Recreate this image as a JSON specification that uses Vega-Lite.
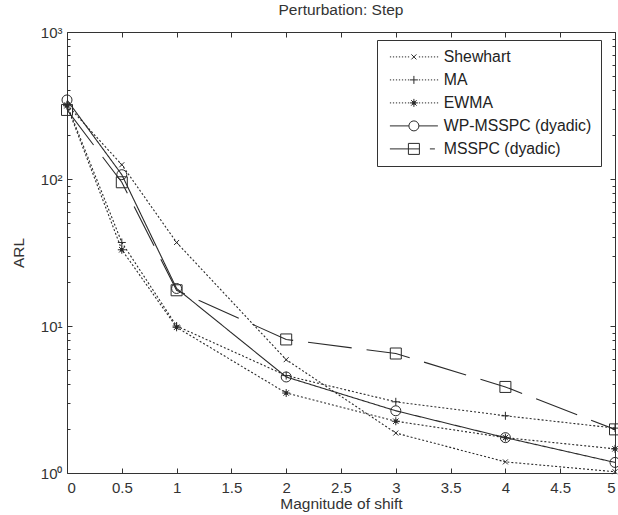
{
  "$schema": "https://vega.github.io/schema/vega-lite/v6.json",
  "width": 548,
  "height": 441,
  "autosize": {"type": "none"},
  "padding": {"left": 67, "top": 32, "right": 3, "bottom": 42},
  "background": "white",
  "title": {"text": "Perturbation: Step", "fontSize": 15.5, "fontWeight": "normal", "color": "#333", "font": "Liberation Sans", "offset": 7},
  "config": {
    "view": {"stroke": "#333", "strokeWidth": 1},
    "axis": {"labelFont": "Liberation Sans", "titleFont": "Liberation Sans", "labelColor": "#333", "titleColor": "#333", "tickColor": "#333", "domain": false, "grid": false, "labelFontSize": 15, "titleFontSize": 15.5, "titleFontWeight": "normal"}
  },
  "data": {"values": [
    {"shift": 0, "ARL": 320, "series": "Shewhart"},
    {"shift": 0.5, "ARL": 125, "series": "Shewhart"},
    {"shift": 1, "ARL": 37, "series": "Shewhart"},
    {"shift": 2, "ARL": 5.9, "series": "Shewhart"},
    {"shift": 3, "ARL": 1.87, "series": "Shewhart"},
    {"shift": 4, "ARL": 1.19, "series": "Shewhart"},
    {"shift": 5, "ARL": 1.02, "series": "Shewhart"},
    {"shift": 0, "ARL": 320, "series": "MA"},
    {"shift": 0.5, "ARL": 37, "series": "MA"},
    {"shift": 1, "ARL": 10, "series": "MA"},
    {"shift": 2, "ARL": 4.6, "series": "MA"},
    {"shift": 3, "ARL": 3.05, "series": "MA"},
    {"shift": 4, "ARL": 2.45, "series": "MA"},
    {"shift": 5, "ARL": 2.02, "series": "MA"},
    {"shift": 0, "ARL": 315, "series": "EWMA"},
    {"shift": 0.5, "ARL": 33, "series": "EWMA"},
    {"shift": 1, "ARL": 9.8, "series": "EWMA"},
    {"shift": 2, "ARL": 3.5, "series": "EWMA"},
    {"shift": 3, "ARL": 2.25, "series": "EWMA"},
    {"shift": 4, "ARL": 1.74, "series": "EWMA"},
    {"shift": 5, "ARL": 1.46, "series": "EWMA"},
    {"shift": 0, "ARL": 345, "series": "WP-MSSPC (dyadic)"},
    {"shift": 0.5, "ARL": 107, "series": "WP-MSSPC (dyadic)"},
    {"shift": 1, "ARL": 18, "series": "WP-MSSPC (dyadic)"},
    {"shift": 2, "ARL": 4.5, "series": "WP-MSSPC (dyadic)"},
    {"shift": 3, "ARL": 2.65, "series": "WP-MSSPC (dyadic)"},
    {"shift": 4, "ARL": 1.74, "series": "WP-MSSPC (dyadic)"},
    {"shift": 5, "ARL": 1.18, "series": "WP-MSSPC (dyadic)"},
    {"shift": 0, "ARL": 295, "series": "MSSPC (dyadic)"},
    {"shift": 0.5, "ARL": 95, "series": "MSSPC (dyadic)"},
    {"shift": 1, "ARL": 17.5, "series": "MSSPC (dyadic)"},
    {"shift": 2, "ARL": 8.1, "series": "MSSPC (dyadic)"},
    {"shift": 3, "ARL": 6.5, "series": "MSSPC (dyadic)"},
    {"shift": 4, "ARL": 3.85, "series": "MSSPC (dyadic)"},
    {"shift": 5, "ARL": 1.98, "series": "MSSPC (dyadic)"}
  ]},
  "layer": [
    {
      "mark": {"type": "line", "color": "#2a2a2a", "strokeWidth": 1.1, "clip": true},
      "encoding": {
        "x": {"field": "shift", "type": "quantitative", "scale": {"domain": [0, 5], "nice": false, "zero": false},
              "axis": {"orient": "bottom", "title": "Magnitude of shift", "values": [0, 0.5, 1, 1.5, 2, 2.5, 3, 3.5, 4, 4.5, 5], "format": "~g", "tickSize": -5, "labelPadding": 12, "titlePadding": 1}},
        "y": {"field": "ARL", "type": "quantitative", "scale": {"type": "log", "domain": [1, 1000], "nice": false},
              "axis": {"orient": "left", "title": "ARL", "values": [1,2,3,4,5,6,7,8,9,10,20,30,40,50,60,70,80,90,100,200,300,400,500,600,700,800,900,1000],
                       "labelExpr": "datum.value == 1 ? '10⁰' : datum.value == 10 ? '10¹' : datum.value == 100 ? '10²' : datum.value == 1000 ? '10³' : ''",
                       "tickSize": {"condition": {"test": "indexof([1,10,100,1000], datum.value) >= 0", "value": -5}, "value": -3},
                       "labelPadding": 10, "titlePadding": 14}},
        "detail": {"field": "series"},
        "strokeDash": {"field": "series", "type": "nominal", "legend": null,
                       "scale": {"domain": ["MSSPC (dyadic)", "WP-MSSPC (dyadic)", "EWMA", "MA", "Shewhart"], "range": [[44, 15], [1, 0], [2, 2], [2, 2], [2, 2]]}}
      }
    },
    {
      "mark": {"type": "point", "size": 100, "strokeWidth": 1, "filled": false, "color": "#2a2a2a", "opacity": 1},
      "encoding": {
        "x": {"field": "shift", "type": "quantitative", "axis": null},
        "y": {"field": "ARL", "type": "quantitative", "axis": null},
        "shape": {"field": "series", "type": "nominal", "legend": null,
                  "scale": {"domain": ["MSSPC (dyadic)", "WP-MSSPC (dyadic)", "EWMA", "MA", "Shewhart"],
                            "range": ["M-1.1,-1.1L1.1,-1.1L1.1,1.1L-1.1,1.1Z",
                                      "M1,0A1,1 0 1,1 -1,0A1,1 0 1,1 1,0Z",
                                      "M-0.8,0L0.8,0M0,-0.8L0,0.8M-0.55,-0.55L0.55,0.55M-0.55,0.55L0.55,-0.55M-0.35,-0.15L0.35,-0.15M-0.35,0.15L0.35,0.15M-0.15,-0.35L-0.15,0.35M0.15,-0.35L0.15,0.35",
                                      "M-0.8,0L0.8,0M0,-0.8L0,0.8",
                                      "M-0.5,-0.5L0.5,0.5M-0.5,0.5L0.5,-0.5"]}}
      }
    },
    {
      "mark": {"type": "point", "opacity": 0},
      "encoding": {
        "x": {"field": "shift", "type": "quantitative",
              "axis": {"orient": "top", "title": null, "labels": false, "values": [0, 0.5, 1, 1.5, 2, 2.5, 3, 3.5, 4, 4.5, 5], "tickSize": -5}},
        "y": {"field": "ARL", "type": "quantitative",
              "axis": {"orient": "right", "title": null, "labels": false, "values": [1,2,3,4,5,6,7,8,9,10,20,30,40,50,60,70,80,90,100,200,300,400,500,600,700,800,900,1000],
                       "tickSize": {"condition": {"test": "indexof([1,10,100,1000], datum.value) >= 0", "value": -5}, "value": -3}}}
      }
    },
    {
      "mark": {"type": "point", "size": 100, "strokeWidth": 1, "filled": false, "color": "#2a2a2a", "opacity": 0},
      "encoding": {
        "x": {"field": "shift", "type": "quantitative", "axis": null},
        "y": {"field": "ARL", "type": "quantitative", "axis": null},
        "shape": {"field": "series", "type": "nominal",
                  "scale": {"domain": ["Shewhart", "MA", "EWMA", "WP-MSSPC (dyadic)", "MSSPC (dyadic)"],
                            "range": ["M-4.8,0L-4.55,0M-4.2,0L-3.95,0M-3.6,0L-3.35,0M-3,0L-2.75,0M-2.4,0L-2.15,0M-1.8,0L-1.55,0M-1.2,0L-0.95,0M1,0L1.25,0M1.6,0L1.85,0M2.2,0L2.45,0M2.8,0L3.05,0M3.4,0L3.65,0M4,0L4.25,0M4.6,0L4.85,0M-0.5,-0.5L0.5,0.5M-0.5,0.5L0.5,-0.5",
                                      "M-4.8,0L-4.55,0M-4.2,0L-3.95,0M-3.6,0L-3.35,0M-3,0L-2.75,0M-2.4,0L-2.15,0M-1.8,0L-1.55,0M-1.2,0L-0.95,0M1,0L1.25,0M1.6,0L1.85,0M2.2,0L2.45,0M2.8,0L3.05,0M3.4,0L3.65,0M4,0L4.25,0M4.6,0L4.85,0M-0.8,0L0.8,0M0,-0.8L0,0.8",
                                      "M-4.8,0L-4.55,0M-4.2,0L-3.95,0M-3.6,0L-3.35,0M-3,0L-2.75,0M-2.4,0L-2.15,0M-1.8,0L-1.55,0M-1.2,0L-0.95,0M1,0L1.25,0M1.6,0L1.85,0M2.2,0L2.45,0M2.8,0L3.05,0M3.4,0L3.65,0M4,0L4.25,0M4.6,0L4.85,0M-0.8,0L0.8,0M0,-0.8L0,0.8M-0.55,-0.55L0.55,0.55M-0.55,0.55L0.55,-0.55M-0.35,-0.15L0.35,-0.15M-0.35,0.15L0.35,0.15M-0.15,-0.35L-0.15,0.35M0.15,-0.35L0.15,0.35",
                                      "M-4.8,0L-1,0M1,0L4.8,0M1,0A1,1 0 1,1 -1,0A1,1 0 1,1 1,0Z",
                                      "M-4.8,0L1.1,0M-1.1,-1.1L1.1,-1.1L1.1,1.1L-1.1,1.1ZM3.2,0L4.2,0"]},
                  "legend": {"title": null, "orient": "none", "legendX": 310, "legendY": 8,
                             "labelFont": "Liberation Sans", "labelFontSize": 15.8, "labelColor": "#222",
                             "strokeColor": "#333", "fillColor": "white", "padding": 9, "rowPadding": 6, "gridAlign": "all",
                             "symbolSize": 100, "symbolOffset": 20, "labelOffset": 22, "symbolOpacity": 1,
                             "symbolStrokeColor": "#2a2a2a", "symbolFillColor": "transparent", "symbolStrokeWidth": 1}}
      }
    }
  ],
  "resolve": {"axis": {"x": "independent", "y": "independent"}, "scale": {"shape": "independent"}}
}
